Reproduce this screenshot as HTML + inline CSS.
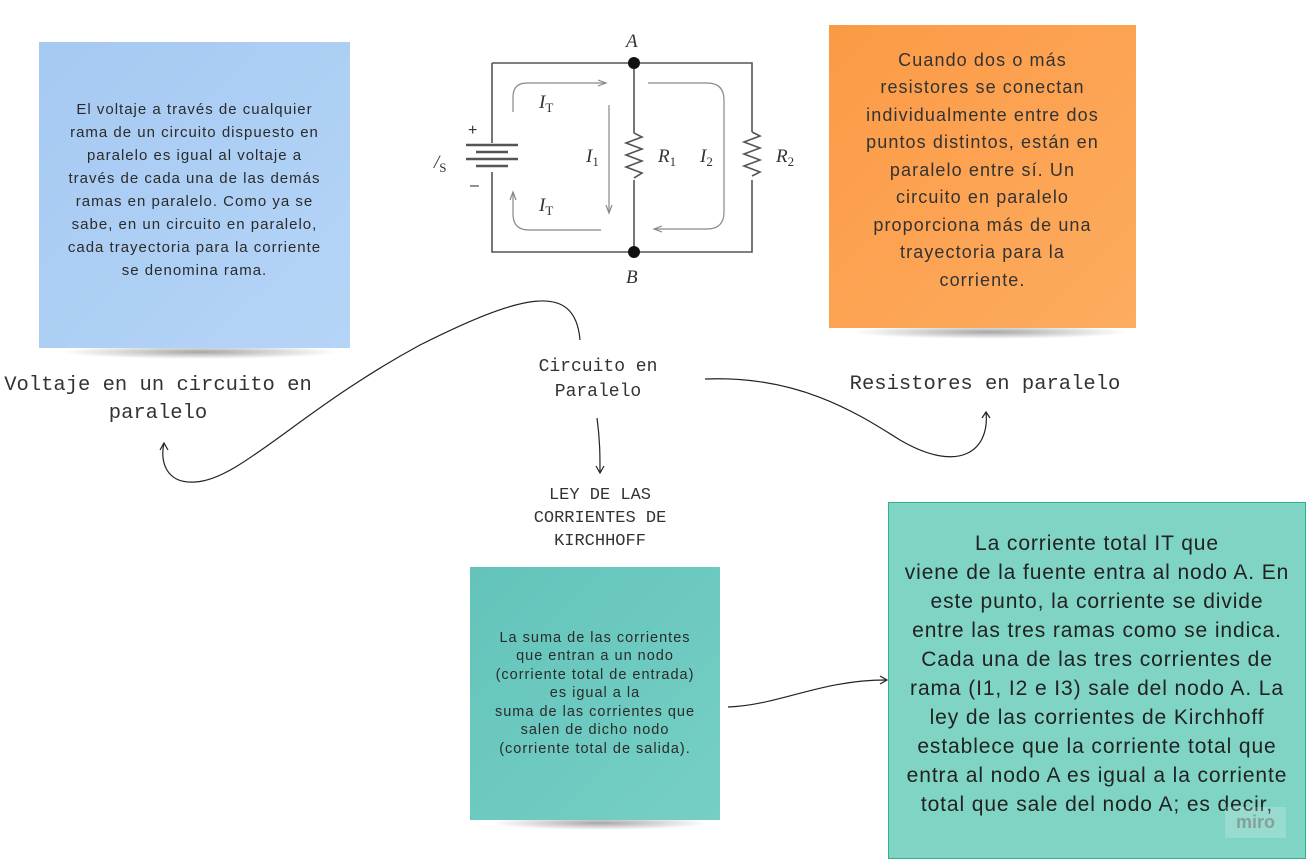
<!DOCTYPE html>
<html><head><meta charset="utf-8"><style>
body{margin:0;width:1306px;height:859px;background:#fff;position:relative;overflow:hidden;font-family:"Liberation Sans",sans-serif}
.n{position:absolute;display:flex;align-items:center;justify-content:center;text-align:center;color:#2b2b2b;box-sizing:border-box;white-space:nowrap}
.m{position:absolute;font-family:"Liberation Mono",monospace;color:#333;text-align:center;white-space:nowrap}
.sh{position:absolute;height:14px;background:radial-gradient(ellipse at center,rgba(0,0,0,.35),rgba(0,0,0,0) 70%)}
</style></head><body>
<div class="sh" style="left:60px;top:345px;width:280px"></div>
<div class="sh" style="left:850px;top:325px;width:280px"></div>
<div class="sh" style="left:490px;top:816px;width:220px"></div>
<div class="n" style="left:39px;top:42px;width:311px;height:306px;background:linear-gradient(135deg,#a6c9f2,#b5d5f7);font-size:15px;letter-spacing:1px;line-height:23px;padding-bottom:10px">El voltaje a través de cualquier<br>rama de un circuito dispuesto en<br>paralelo es igual al voltaje a<br>través de cada una de las demás<br>ramas en paralelo. Como ya se<br>sabe, en un circuito en paralelo,<br>cada trayectoria para la corriente<br>se denomina rama.</div>
<div class="n" style="left:829px;top:25px;width:307px;height:303px;background:linear-gradient(135deg,#fb9a45,#fdac60);font-size:18px;letter-spacing:1.1px;line-height:27.5px;color:#333;padding-bottom:12px">Cuando dos o más<br>resistores se conectan<br>individualmente entre dos<br>puntos distintos, están en<br>paralelo entre sí. Un<br>circuito en paralelo<br>proporciona más de una<br>trayectoria para la<br>corriente.</div>
<div class="n" style="left:470px;top:567px;width:250px;height:253px;background:linear-gradient(135deg,#63c4bb,#76cfc4);font-size:14.5px;letter-spacing:1px;line-height:18.5px;">La suma de las corrientes<br>que entran a un nodo<br>(corriente total de entrada)<br>es igual a la<br>suma de las corrientes que<br>salen de dicho nodo<br>(corriente total de salida).</div>
<div class="n" style="left:888px;top:502px;width:418px;height:357px;background:#7fd4c4;border:1px solid #2fb08e;font-size:21px;letter-spacing:0.9px;line-height:29px;padding-top:26px;align-items:flex-start;color:#222">La corriente total IT que<br>viene de la fuente entra al nodo A. En<br>este punto, la corriente se divide<br>entre las tres ramas como se indica.<br>Cada una de las tres corrientes de<br>rama (I1, I2 e I3) sale del nodo A. La<br>ley de las corrientes de Kirchhoff<br>establece que la corriente total que<br>entra al nodo A es igual a la corriente<br>total que sale del nodo A; es decir,</div>
<div style="position:absolute;left:1225px;top:807px;width:61px;height:31px;background:rgba(255,255,255,.2);color:rgba(120,120,120,.6);font-size:18px;text-align:center;line-height:31px;font-weight:bold">miro</div>
<div class="m" style="left:0;top:372px;width:316px;font-size:20.5px;line-height:28px">Voltaje en un circuito en<br>paralelo</div>
<div class="m" style="left:518px;top:355px;width:160px;font-size:18px;line-height:25px">Circuito en<br>Paralelo</div>
<div class="m" style="left:835px;top:373px;width:300px;font-size:20.5px">Resistores en paralelo</div>
<div class="m" style="left:500px;top:484px;width:200px;font-size:17px;line-height:23px">LEY DE LAS<br>CORRIENTES DE<br>KIRCHHOFF</div>
<svg width="1306" height="859" style="position:absolute;left:0;top:0" fill="none">
<g stroke="#222" stroke-width="1.2">
<path d="M580,340 C575,280 520,295 420,345 C300,410 240,480 195,482 C165,484 160,460 164,443"/>
<path d="M160,450 L164,443 L168,450"/>
<path d="M705,379 C800,375 860,415 900,440 C960,475 990,450 986,412"/>
<path d="M982,418 L986,412 L990,418"/>
<path d="M597,418 C600,440 600,455 600,472"/>
<path d="M596,466 L600,473 L604,466"/>
<path d="M728,707 C780,705 820,680 886,680"/>
<path d="M880,676 L887,680 L880,684"/>
</g>
<g stroke="#555" stroke-width="1.6">
<path d="M492,63 H752 V132 M752,180 V252 H492 V172 M492,143 V63"/>
<path d="M634,63 V133 M634,180 V252"/>
<path d="M634,133 l8,4 -16,6 16,6 -16,6 16,6 -16,6 16,6 -8,5"/>
<path d="M752,132 l8,4 -16,6 16,6 -16,6 16,6 -16,6 16,6 -8,4"/>
<path stroke-width="2.5" d="M466,145 H518 M476,152 H508 M466,159 H518 M476,166 H508"/>
</g>
<g stroke="#888" stroke-width="1.2">
<path d="M513,112 V97 Q513,83 527,83 H605"/><path d="M598,80 L606,83 598,86"/>
<path d="M609,105 V212"/><path d="M606,205 L609,213 612,205"/>
<path d="M648,83 H707 Q724,83 724,100 V212 Q724,229 707,229 H655"/><path d="M662,226 L654,229 662,232"/>
<path d="M601,230 H529 Q513,230 513,214 V193"/><path d="M510,200 L513,192 516,200"/>
</g>
<circle cx="634" cy="63" r="6" fill="#111"/><circle cx="634" cy="252" r="6" fill="#111"/>
<g font-family="Liberation Serif,serif" font-style="italic" fill="#333" font-size="19">
<text x="626" y="47">A</text><text x="626" y="283">B</text>
<text x="539" y="108">I<tspan font-size="13" font-style="normal" dy="4">T</tspan></text>
<text x="539" y="211">I<tspan font-size="13" font-style="normal" dy="4">T</tspan></text>
<text x="586" y="162">I<tspan font-size="13" font-style="normal" dy="4">1</tspan></text>
<text x="700" y="162">I<tspan font-size="13" font-style="normal" dy="4">2</tspan></text>
<text x="658" y="162">R<tspan font-size="13" font-style="normal" dy="4">1</tspan></text>
<text x="776" y="162">R<tspan font-size="13" font-style="normal" dy="4">2</tspan></text>
<text x="434" y="168">/<tspan font-size="13" font-style="normal" dy="4">S</tspan></text>
</g>
<text x="468" y="135" font-size="16" fill="#333" font-family="Liberation Sans">+</text>
<text x="470" y="190" font-size="16" fill="#333" font-family="Liberation Sans">–</text>
</svg>
</body></html>
